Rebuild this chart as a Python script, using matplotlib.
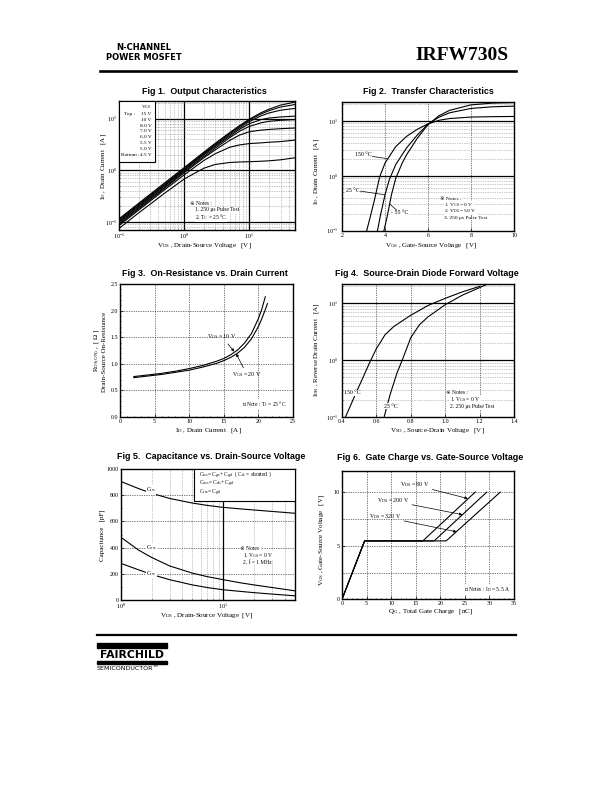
import matplotlib
matplotlib.use("Agg")
import matplotlib.pyplot as plt
from matplotlib.lines import Line2D
from matplotlib.patches import Rectangle
from matplotlib.ticker import NullFormatter, MultipleLocator, FixedLocator, LogLocator

plt.rcParams["font.family"] = ["Liberation Serif", "DejaVu Sans", "Noto Sans CJK JP"]
plt.rcParams["mathtext.fontset"] = "custom"
plt.rcParams["mathtext.rm"] = "Liberation Serif"
plt.rcParams["mathtext.it"] = "Liberation Serif:italic"
plt.rcParams["mathtext.bf"] = "Liberation Serif:bold"

W, H = 612, 792
TICK = 4.3
LAB = 5.0
NOTE = 4.2
TFONT = ["Liberation Sans Narrow", "Liberation Sans"]

# ---- Fig 1: output characteristics (I_D vs V_DS, per V_GS step)
vds_out = [0.1, 0.2, 0.5, 1, 2, 3, 5, 7, 10, 15, 20, 30, 50]
vgs_steps = ["15 V", "10 V", "8.0 V", "7.0 V", "6.0 V", "5.5 V", "5.0 V", "4.5 V"]
id_15v = [0.115, 0.23, 0.57, 1.13, 2.25, 3.35, 5.4, 7.3, 9.8, 13.0, 15.3, 18.3, 21.0]
id_10v = [0.11, 0.22, 0.54, 1.08, 2.15, 3.2, 5.2, 7.0, 9.4, 12.3, 14.3, 16.8, 18.8]
id_8v = [0.105, 0.21, 0.52, 1.04, 2.07, 3.05, 4.9, 6.6, 8.8, 11.3, 12.9, 14.6, 15.8]
id_7v = [0.1, 0.2, 0.5, 1.0, 1.98, 2.9, 4.6, 6.2, 8.0, 9.6, 10.3, 10.8, 11.2]
id_6v = [0.095, 0.19, 0.47, 0.95, 1.85, 2.7, 4.3, 5.7, 7.1, 8.3, 8.9, 9.3, 9.6]
id_55v = [0.09, 0.18, 0.45, 0.9, 1.75, 2.5, 3.8, 4.8, 5.6, 6.0, 6.2, 6.4, 6.6]
id_5v = [0.085, 0.17, 0.42, 0.82, 1.55, 2.1, 2.8, 3.1, 3.3, 3.4, 3.5, 3.6, 3.85]
id_45v = [0.075, 0.15, 0.36, 0.68, 1.1, 1.3, 1.42, 1.45, 1.47, 1.5, 1.53, 1.6, 1.75]
out_curves = [id_15v, id_10v, id_8v, id_7v, id_6v, id_55v, id_5v, id_45v]

# ---- Fig 2: transfer characteristics
vgs_150 = [3.15, 3.3, 3.5, 3.75, 4.0, 4.5, 5.0, 5.5, 6.0, 6.5, 7.0, 8.0, 9.0, 10.0]
id_150 = [0.10, 0.17, 0.35, 0.95, 1.7, 3.4, 5.2, 7.0, 8.8, 10.2, 11.0, 11.7, 11.9, 12.0]
vgs_25 = [3.65, 3.8, 4.0, 4.2, 4.5, 5.0, 5.5, 6.0, 6.5, 7.0, 8.0, 9.0, 10.0]
id_25 = [0.10, 0.2, 0.45, 0.85, 1.6, 3.2, 5.5, 8.7, 11.6, 14.0, 16.8, 18.0, 18.5]
vgs_m55 = [3.95, 4.1, 4.3, 4.5, 4.8, 5.0, 5.5, 6.0, 6.5, 7.0, 8.0, 9.0, 10.0]
id_m55 = [0.10, 0.18, 0.45, 0.9, 1.7, 2.4, 4.8, 8.5, 12.3, 15.5, 19.5, 21.0, 21.5]

# ---- Fig 3: on-resistance vs drain current
id_r10 = [2, 4, 6, 8, 10, 12, 14, 15, 16, 17, 18, 19, 20, 20.5, 21]
rds_10v = [0.76, 0.79, 0.82, 0.86, 0.91, 0.97, 1.05, 1.10, 1.17, 1.26, 1.39, 1.57, 1.85, 2.03, 2.26]
id_r20 = [2, 4, 6, 8, 10, 12, 14, 15, 16, 17, 18, 19, 20, 20.5, 21, 21.3]
rds_20v = [0.74, 0.77, 0.80, 0.84, 0.88, 0.94, 1.01, 1.06, 1.12, 1.20, 1.31, 1.47, 1.70, 1.85, 2.02, 2.13]

# ---- Fig 4: source-drain diode forward voltage
vsd_150 = [0.42, 0.45, 0.48, 0.52, 0.56, 0.6, 0.65, 0.7, 0.8, 0.9, 1.0, 1.1, 1.2]
idr_150 = [0.1, 0.16, 0.26, 0.48, 0.9, 1.6, 2.8, 3.9, 6.2, 9.2, 12.3, 16.0, 20.0]
vsd_25 = [0.645, 0.68, 0.72, 0.75, 0.8, 0.85, 0.9, 1.0, 1.1, 1.2, 1.24]
idr_25 = [0.1, 0.25, 0.6, 1.0, 2.5, 4.2, 5.8, 9.5, 14.0, 19.0, 21.5]

# ---- Fig 5: capacitance vs V_DS
vds_cap = [1, 1.5, 2, 3, 5, 7, 10, 15, 20, 30, 50]
c_iss = [905, 850, 815, 775, 740, 722, 707, 695, 687, 676, 662]
c_oss = [480, 380, 325, 260, 205, 178, 155, 130, 115, 95, 70]
c_rss = [280, 230, 195, 155, 115, 95, 78, 65, 56, 45, 32]

# ---- Fig 6: gate charge
qg_80 = [0, 4.6, 16.45, 27.1]
vg_80 = [0, 5.45, 5.45, 10.0]
qg_200 = [0, 4.6, 18.75, 29.45]
vg_200 = [0, 5.45, 5.45, 10.0]
qg_320 = [0, 4.6, 21.2, 32.2]
vg_320 = [0, 5.45, 5.45, 10.0]


def place(l, t, r, b):
    return [l / W, 1 - b / H, (r - l) / W, (b - t) / H]


fig = plt.figure(figsize=(W / 100, H / 100), dpi=100)


def ftext(x, y, s, **kw):
    kw.setdefault("fontsize", NOTE)
    kw.setdefault("va", "center")
    return fig.text(x / W, 1 - y / H, s, **kw)


def style(ax):
    for s in ax.spines.values():
        s.set_linewidth(1.0)
    ax.tick_params(which="both", direction="in", labelsize=TICK, pad=1.5, width=0.5,
                   top=False, right=False)
    ax.tick_params(which="major", length=2)
    ax.tick_params(which="minor", length=1)


def note(x, y, s, **kw):
    kw.setdefault("fontsize", 4.0)
    ftext(x, y, s, bbox=dict(fc="white", ec="none", pad=0.1), zorder=5, **kw)


def logticks(ax, axis, vals, labs):
    a = ax.xaxis if axis == "x" else ax.yaxis
    a.set_major_locator(FixedLocator(vals))
    a.set_major_formatter(matplotlib.ticker.FixedFormatter(labs))
    a.set_minor_locator(LogLocator(base=10, subs=range(2, 10)))
    a.set_minor_formatter(NullFormatter())


dotted = dict(ls=(0, (1, 1.5)), lw=0.5)
arr = dict(arrowstyle="-", lw=0.5, color="k", shrinkA=0, shrinkB=0)
arrh = dict(arrowstyle="-|>", lw=0.5, color="k", mutation_scale=4, shrinkA=0, shrinkB=0)
bb = dict(fc="white", ec="none", pad=0.2)

# ================= Fig 1
ax1 = fig.add_axes(place(119, 101, 295, 230))
ax1.set_xscale("log")
ax1.set_yscale("log")
for ys in out_curves:
    ax1.plot(vds_out, ys, color="k", lw=0.8, zorder=3)
ax1.set_xlim(0.1, 50)
ax1.set_ylim(0.07, 22)
logticks(ax1, "x", [0.1, 1, 10], ["$10^{-1}$", "$10^{0}$", "$10^{1}$"])
logticks(ax1, "y", [0.1, 1, 10], ["$10^{-1}$", "$10^{0}$", "$10^{1}$"])
ax1.grid(which="minor", color="0.55", **dotted)
for v in [1, 10]:
    ax1.axvline(v, color="k", lw=0.9, zorder=1.5)
for v in [0.1, 1, 10]:
    ax1.axhline(v, color="k", lw=0.9, zorder=1.5)
style(ax1)
ax1.add_patch(Rectangle((0, 0.53), 0.205, 0.47, transform=ax1.transAxes, fc="white",
                        ec="k", lw=0.8, zorder=5))
ftext(151.5, 107.5, r"$\mathrm{V_{GS}}$", ha="right", fontsize=3.8, zorder=6)
ftext(124, 114, "Top :", ha="left", fontsize=3.8, zorder=6)
for i, lab in enumerate(vgs_steps):
    ftext(151.5, 114 + i * 5.8, lab, ha="right", fontsize=3.8, zorder=6)
ftext(121, 154.6, "Bottom :", ha="left", fontsize=3.8, zorder=6)
note(190, 203.3, "※ Notes :", ha="left")
note(195, 210, "1. 250 μs Pulse Test", ha="left")
note(195, 216.7, r"2. $\mathrm{T_C}$ = 25 °C", ha="left")
ftext(204, 91, "Fig 1.  Output Characteristics", ha="center", fontsize=6.4,
      family=TFONT, weight="bold")
ftext(204, 245.5, r"$\mathrm{V_{DS}}$ , Drain-Source Voltage   [V]", ha="center", fontsize=LAB)
ftext(103.5, 167, r"$\mathrm{I_D}$ , Drain Current   [A]", ha="center", rotation=90, fontsize=LAB)

# ================= Fig 2
ax2 = fig.add_axes(place(342, 102, 514, 230.7))
ax2.set_yscale("log")
ax2.plot(vgs_150, id_150, color="k", lw=0.8, zorder=3)
ax2.plot(vgs_25, id_25, color="k", lw=0.8, zorder=3)
ax2.plot(vgs_m55, id_m55, color="k", lw=0.8, zorder=3)
ax2.set_xlim(2, 10)
ax2.set_ylim(0.1, 22)
ax2.set_xticks([2, 4, 6, 8, 10])
logticks(ax2, "y", [0.1, 1, 10], ["$10^{-1}$", "$10^{0}$", "$10^{1}$"])
ax2.grid(which="minor", axis="y", color="0.55", **dotted)
ax2.grid(which="major", axis="x", color="k", **dotted)
for v in [1, 10]:
    ax2.axhline(v, color="k", lw=0.9, zorder=1.5)
style(ax2)
ax2.tick_params(axis="y", pad=3)
ax2.annotate("150 °C", xy=(4.1, 2.05), xytext=(363, H - 155), textcoords="figure pixels",
             ha="center", va="center", fontsize=NOTE, arrowprops=arr, bbox=bb)
ax2.annotate("25 °C", xy=(4.0, 0.45), xytext=(353, H - 190), textcoords="figure pixels",
             ha="center", va="center", fontsize=NOTE, arrowprops=arr, bbox=bb)
ax2.annotate("- 55 °C", xy=(4.2, 0.31), xytext=(400, H - 213), textcoords="figure pixels",
             ha="center", va="center", fontsize=NOTE, arrowprops=arr, bbox=bb)
note(440, 198.5, "※ Notes :", ha="left", fontsize=3.9)
note(444, 205.0, r"1. $\mathrm{V_{GS}}$ = 0 V", ha="left", fontsize=3.9)
note(444, 211.5, r"2. $\mathrm{V_{DS}}$ = 50 V", ha="left", fontsize=3.9)
note(444, 218.0, "3. 250 μs Pulse Test", ha="left", fontsize=3.9)
ftext(428, 91, "Fig 2.  Transfer Characteristics", ha="center", fontsize=6.4,
      family=TFONT, weight="bold")
ftext(431, 245, r"$\mathrm{V_{GS}}$ , Gate-Source Voltage   [V]", ha="center", fontsize=LAB)
ftext(316, 172, r"$\mathrm{I_D}$ , Drain Current   [A]", ha="center", rotation=90, fontsize=LAB)

# ================= Fig 3
ax3 = fig.add_axes(place(120, 284, 293, 417))
ax3.plot(id_r10, rds_10v, color="k", lw=0.8, zorder=3)
ax3.plot(id_r20, rds_20v, color="k", lw=0.8, zorder=3)
ax3.set_xlim(0, 25)
ax3.set_ylim(0, 2.5)
ax3.set_xticks([0, 5, 10, 15, 20, 25])
ax3.set_yticks([0.0, 0.5, 1.0, 1.5, 2.0, 2.5])
ax3.set_yticklabels(["0.0", "0.5", "1.0", "1.5", "2.0", "2.5"])
ax3.xaxis.set_minor_locator(MultipleLocator(1))
ax3.yaxis.set_minor_locator(MultipleLocator(0.1))
ax3.grid(which="major", color="k", **dotted)
style(ax3)
ax3.annotate(r"$\mathrm{V_{GS}}$ = 10 V", xy=(16.5, 1.23), xytext=(222, H - 336.7),
             textcoords="figure pixels", ha="center", va="center", fontsize=NOTE,
             arrowprops=arrh)
ax3.annotate(r"$\mathrm{V_{GS}}$ = 20 V", xy=(16.8, 1.19), xytext=(247, H - 375),
             textcoords="figure pixels", ha="center", va="center", fontsize=NOTE,
             arrowprops=arrh)
note(286, 404.3, r"※ Note : $\mathrm{T_J}$ = 25 °C", ha="right")
ftext(205, 273.3, "Fig 3.  On-Resistance vs. Drain Current", ha="center", fontsize=6.4,
      family=TFONT, weight="bold")
ftext(208, 430.5, r"$\mathrm{I_D}$ , Drain Current   [A]", ha="center", fontsize=LAB)
ftext(97.5, 350, r"$\mathrm{R_{DS(ON)}}$ ,  [ Ω ]", ha="center", rotation=90, fontsize=LAB)
ftext(104, 352, "Drain-Source On-Resistance", ha="center", rotation=90, fontsize=LAB)

# ================= Fig 4
ax4 = fig.add_axes(place(342, 284, 514, 417))
ax4.set_yscale("log")
ax4.plot(vsd_150, idr_150, color="k", lw=0.8, zorder=3)
ax4.plot(vsd_25, idr_25, color="k", lw=0.8, zorder=3)
ax4.set_xlim(0.4, 1.4)
ax4.set_ylim(0.1, 22)
ax4.set_xticks([0.4, 0.6, 0.8, 1.0, 1.2, 1.4])
ax4.set_xticklabels(["0.4", "0.6", "0.8", "1.0", "1.2", "1.4"])
logticks(ax4, "y", [0.1, 1, 10], ["$10^{-1}$", "$10^{0}$", "$10^{1}$"])
ax4.grid(which="minor", axis="y", color="0.55", **dotted)
ax4.grid(which="major", axis="x", color="k", **dotted)
for v in [1, 10]:
    ax4.axhline(v, color="k", lw=0.9, zorder=1.5)
style(ax4)
ax4.tick_params(axis="y", pad=3)
ftext(352.5, 393, "150 °C", ha="center", bbox=bb, zorder=5)
ftext(391, 406, "25 °C", ha="center", bbox=bb, zorder=5)
note(446.5, 393, "※ Notes :", ha="left")
note(450, 400, r"1. $\mathrm{V_{GS}}$ = 0 V", ha="left")
note(450, 407, "2. 250 μs Pulse Test", ha="left")
ftext(427, 273.3, "Fig 4.  Source-Drain Diode Forward Voltage", ha="center", fontsize=6.4,
      family=TFONT, weight="bold")
ftext(437, 430.5, r"$\mathrm{V_{SD}}$ , Source-Drain Voltage   [V]", ha="center", fontsize=LAB)
ftext(316, 350, r"$\mathrm{I_{DR}}$ , Reverse Drain Current   [A]", ha="center", rotation=90,
      fontsize=LAB)

# ================= Fig 5
ax5 = fig.add_axes(place(120.7, 469, 295, 600))
ax5.set_xscale("log")
ax5.plot(vds_cap, c_iss, color="k", lw=0.8, zorder=3)
ax5.plot(vds_cap, c_oss, color="k", lw=0.8, zorder=3)
ax5.plot(vds_cap, c_rss, color="k", lw=0.8, zorder=3)
ax5.set_xlim(1, 50)
ax5.set_ylim(0, 1000)
logticks(ax5, "x", [1, 10], ["$10^{0}$", "$10^{1}$"])
ax5.set_yticks([0, 200, 400, 600, 800, 1000])
ax5.yaxis.set_minor_locator(MultipleLocator(100))
ax5.grid(which="minor", axis="x", color="0.55", **dotted)
ax5.grid(which="major", axis="y", color="k", **dotted)
ax5.axvline(10, color="k", lw=0.9, zorder=1.5)
style(ax5)
ax5.add_patch(Rectangle((0.42, 0.755), 0.58, 0.245, transform=ax5.transAxes, fc="white",
                        ec="k", lw=0.8, zorder=5))
ftext(199, 474.5, r"$\mathrm{C_{iss} = C_{gs} + C_{gd}}$  ( $\mathrm{C_{ds}}$ = shorted )",
      ha="left", fontsize=4.0, zorder=6)
ftext(199, 483.8, r"$\mathrm{C_{oss} = C_{ds} + C_{gd}}$", ha="left", fontsize=4.0, zorder=6)
ftext(199, 493.1, r"$\mathrm{C_{rss} = C_{gd}}$", ha="left", fontsize=4.0, zorder=6)
ftext(146, 490, r"$\mathrm{C_{iss}}$", ha="left", bbox=bb, zorder=5)
ftext(146, 548, r"$\mathrm{C_{oss}}$", ha="left", bbox=bb, zorder=5)
ftext(146, 574, r"$\mathrm{C_{rss}}$", ha="left", bbox=bb, zorder=5)
note(240, 548.3, "※ Notes :", ha="left")
note(243.5, 555.5, r"1. $\mathrm{V_{GS}}$ = 0 V", ha="left")
note(243.5, 562.5, "2. f = 1 MHz", ha="left")
ftext(211.5, 456, "Fig 5.  Capacitance vs. Drain-Source Voltage", ha="center", fontsize=6.4,
      family=TFONT, weight="bold")
ftext(207, 615.5, r"$\mathrm{V_{DS}}$ , Drain-Source Voltage  [V]", ha="center", fontsize=LAB)
ftext(102, 535, "Capacitance   [pF]", ha="center", rotation=90, fontsize=LAB)

# ================= Fig 6
ax6 = fig.add_axes(place(342, 470.7, 514, 599.3))
ax6.plot(qg_80, vg_80, color="k", lw=0.8, zorder=3)
ax6.plot(qg_200, vg_200, color="k", lw=0.8, zorder=3)
ax6.plot(qg_320, vg_320, color="k", lw=0.8, zorder=3)
ax6.set_xlim(0, 35)
ax6.set_ylim(0, 12)
ax6.set_xticks([0, 5, 10, 15, 20, 25, 30, 35])
ax6.set_yticks([0, 5, 10])
ax6.xaxis.set_minor_locator(MultipleLocator(1))
ax6.yaxis.set_minor_locator(MultipleLocator(2.5))
ax6.grid(which="major", axis="x", color="k", **dotted)
ax6.grid(which="both", axis="y", color="k", **dotted)
style(ax6)
ax6.annotate(r"$\mathrm{V_{DS}}$ = 80 V", xy=(25.6, 9.4), xytext=(415, H - 485),
             textcoords="figure pixels", ha="center", va="center", fontsize=NOTE,
             arrowprops=arrh)
ax6.annotate(r"$\mathrm{V_{DS}}$ = 200 V", xy=(24.5, 7.9), xytext=(393, H - 501),
             textcoords="figure pixels", ha="center", va="center", fontsize=NOTE,
             arrowprops=arrh)
ax6.annotate(r"$\mathrm{V_{DS}}$ = 320 V", xy=(23.3, 6.3), xytext=(385, H - 517),
             textcoords="figure pixels", ha="center", va="center", fontsize=NOTE,
             arrowprops=arrh)
note(510, 590, r"※ Notes : $\mathrm{I_D}$ = 5.5 A", ha="right")
ftext(430, 458, "Fig 6.  Gate Charge vs. Gate-Source Voltage", ha="center", fontsize=6.4,
      family=TFONT, weight="bold")
ftext(431, 612, r"$\mathrm{Q_G}$ , Total Gate Charge   [nC]", ha="center", fontsize=LAB)
ftext(322, 540, r"$\mathrm{V_{GS}}$ , Gate-Source Voltage   [V]", ha="center", rotation=90,
      fontsize=LAB)

# ================= page header / footer
ftext(144, 48, "N-CHANNEL", ha="center", fontsize=6.0, family=["DejaVu Sans"], weight="bold")
ftext(144, 58, "POWER MOSFET", ha="center", fontsize=6.0, family=["DejaVu Sans"], weight="bold")
ftext(509, 56, "IRFW730S", ha="right", fontsize=14, family=["Liberation Serif"], weight="bold")
fig.add_artist(Line2D([100 / W, 516 / W], [1 - 71 / H] * 2, lw=1.9, color="k",
                      transform=fig.transFigure))
fig.add_artist(Line2D([97 / W, 516 / W], [1 - 635 / H] * 2, lw=1.6, color="k",
                      transform=fig.transFigure))
fig.add_artist(Rectangle((97 / W, 1 - 648 / H), 70 / W, 5 / H, color="k",
                         transform=fig.transFigure))
ftext(132, 655, "FAIRCHILD", ha="center", fontsize=7.8, family=["DejaVu Sans"], weight="bold")
fig.add_artist(Rectangle((97 / W, 1 - 664 / H), 70 / W, 3 / H, color="k",
                         transform=fig.transFigure))
ftext(97, 669, "SEMICONDUCTOR™", ha="left", fontsize=4.6, family=["DejaVu Sans"])

fig.savefig("out.png", dpi=100)
